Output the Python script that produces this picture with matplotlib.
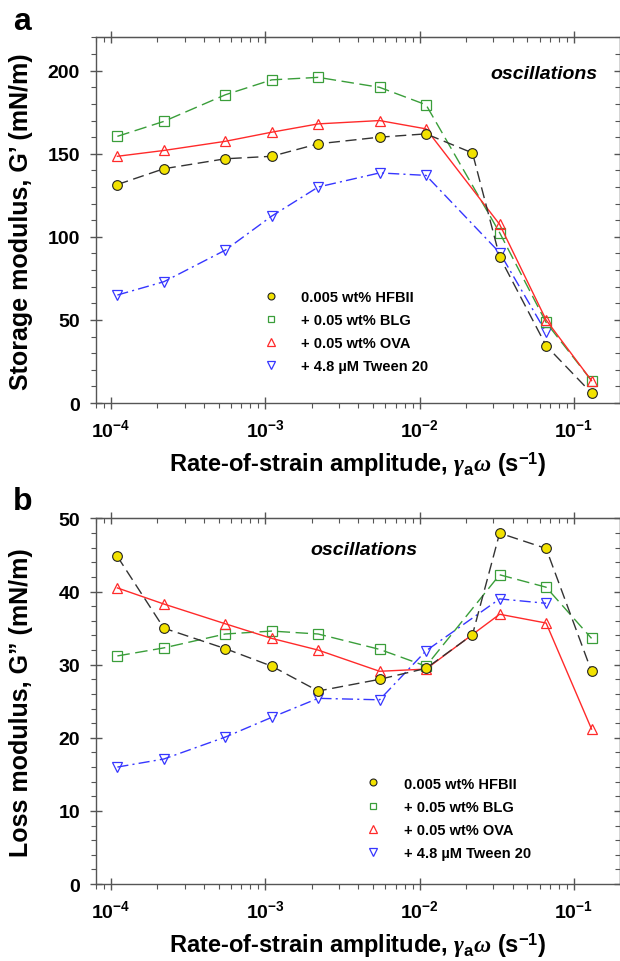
import matplotlib
matplotlib.use('Agg')
import matplotlib.pyplot as plt
from matplotlib.lines import Line2D
from matplotlib.ticker import MultipleLocator, NullFormatter

plt.rcParams['font.family'] = ['Liberation Sans', 'DejaVu Sans']
plt.rcParams['font.weight'] = 'bold'
plt.rcParams['mathtext.fontset'] = 'custom'
plt.rcParams['mathtext.rm'] = 'Liberation Sans:bold'
plt.rcParams['mathtext.bf'] = 'Liberation Sans:bold'
plt.rcParams['mathtext.it'] = 'Liberation Serif:italic'

# rate-of-strain amplitude (1/s)
rate_all = [1.1e-4, 2.2e-4, 5.5e-4, 1.1e-3, 2.2e-3, 5.5e-3, 1.1e-2, 2.2e-2, 3.3e-2, 6.6e-2, 1.3e-1]
rate_10 = [1.1e-4, 2.2e-4, 5.5e-4, 1.1e-3, 2.2e-3, 5.5e-3, 1.1e-2, 3.3e-2, 6.6e-2, 1.3e-1]
rate_9 = [1.1e-4, 2.2e-4, 5.5e-4, 1.1e-3, 2.2e-3, 5.5e-3, 1.1e-2, 3.3e-2, 6.6e-2]

labels = ['0.005 wt% HFBII', '+ 0.05 wt% BLG', '+ 0.05 wt% OVA', '+ 4.8 \u00b5M Tween 20']

# storage modulus G' (mN/m)
g1_hfb = [131.5, 141, 147, 148.5, 156, 160, 162, 150.5, 88, 34.5, 6]
g1_blg = [160.5, 169.5, 185.5, 194.5, 196, 190, 179.5, 102.5, 48.5, 13.5]
g1_ova = [148.5, 152, 157.5, 163, 168, 170, 165, 107.5, 50, 13.5]
g1_tw = [65, 73, 92, 112.5, 130, 138.5, 137, 90.5, 42.5]

# loss modulus G'' (mN/m)
g2_hfb = [44.8, 35.0, 32.2, 29.8, 26.4, 28.0, 29.5, 34.1, 48.0, 45.9, 29.1]
g2_blg = [31.2, 32.3, 34.2, 34.6, 34.2, 32.1, 29.8, 42.3, 40.6, 33.6]
g2_ova = [40.5, 38.3, 35.6, 33.6, 32.0, 29.1, 29.4, 36.9, 35.7, 21.2]
g2_tw = [16.0, 17.1, 20.1, 22.8, 25.4, 25.2, 31.9, 39.0, 38.4]

axc = '#555555'
yellow = '#f2e200'
green = '#3a9e3a'
red = '#ff2a2a'
blue = '#3636ff'

fig = plt.figure(figsize=(6.2, 9.62), dpi=100)
ax1 = fig.add_axes([0.1544, 0.580, 0.845, 0.380])
ax2 = fig.add_axes([0.1544, 0.080, 0.845, 0.380])


def draw(ax, hfb, blg, ova, tw):
    ax.plot(rate_9, tw, color=blue, lw=1.0, dashes=(8, 3, 1.5, 3),
            marker='v', ms=7, mfc='none', mec=blue, mew=0.9)
    ax.plot(rate_10, blg, color=green, lw=1.0, dashes=(9, 4),
            marker='s', ms=6.5, mfc='none', mec=green, mew=0.9)
    ax.plot(rate_10, ova, color=red, lw=1.0, ls='-',
            marker='^', ms=7, mfc='none', mec=red, mew=0.9)
    ax.plot(rate_all, hfb, color='#333333', lw=1.0, dashes=(8, 4),
            marker='o', ms=7, mfc=yellow, mec='#222222', mew=0.8)


def style(ax, ylim, major, minor, ylabel):
    ax.set_xscale('log')
    ax.set_xlim(10 ** -4.099, 10 ** -0.704)
    ax.set_ylim(*ylim)
    ax.yaxis.set_major_locator(MultipleLocator(major))
    ax.yaxis.set_minor_locator(MultipleLocator(minor))
    for s in ax.spines.values():
        s.set_color(axc)
        s.set_linewidth(1.0)
    ax.tick_params(which='major', direction='inout', length=8.5, width=1.0, color=axc,
                   labelsize=14, pad=7, top=False, right=False)
    ax.tick_params(which='minor', direction='out', length=3.5, width=0.8, color=axc,
                   top=False, right=False)
    ax.set_xlabel(r'Rate-of-strain amplitude, $\gamma_{\mathrm{a}}\omega$ (s$^{-1}$)',
                  fontsize=17, fontweight='bold')
    ax.xaxis.set_label_coords(0.5, -0.125)
    ax.set_ylabel(ylabel, fontsize=18, fontweight='bold')
    ax.yaxis.set_label_coords(-0.12, 0.5)

    # top and right axes: ticks only, pointing inward
    top = ax.secondary_xaxis('top')
    top.tick_params(which='major', direction='inout', length=8.5, width=1.0, color=axc)
    top.tick_params(which='minor', direction='in', length=3.5, width=0.8, color=axc)
    top.xaxis.set_major_formatter(NullFormatter())
    top.xaxis.set_minor_formatter(NullFormatter())
    top.spines['top'].set_color(axc)
    right = ax.secondary_yaxis('right')
    right.yaxis.set_major_locator(MultipleLocator(major))
    right.yaxis.set_minor_locator(MultipleLocator(minor))
    right.tick_params(which='major', direction='inout', length=8.5, width=1.0, color=axc)
    right.tick_params(which='minor', direction='in', length=3.5, width=0.8, color=axc)
    right.yaxis.set_major_formatter(NullFormatter())
    right.spines['right'].set_color(axc)


def legend(ax, xy):
    handles = [
        Line2D([], [], ls='none', marker='o', ms=5, mfc=yellow, mec='#222222', mew=0.8),
        Line2D([], [], ls='none', marker='s', ms=4.5, mfc='none', mec=green, mew=0.9),
        Line2D([], [], ls='none', marker='^', ms=5.5, mfc='none', mec=red, mew=0.9),
        Line2D([], [], ls='none', marker='v', ms=5.5, mfc='none', mec=blue, mew=0.9),
    ]
    ax.legend(handles, labels, loc='upper left', bbox_to_anchor=xy, frameon=False,
              fontsize=10.5, handlelength=1.0, handletextpad=1.6, labelspacing=0.62,
              borderpad=0, borderaxespad=0)


draw(ax1, g1_hfb, g1_blg, g1_ova, g1_tw)
style(ax1, (0, 220), 50, 10, 'Storage modulus, G\u2019 (mN/m)')
legend(ax1, (0.320, 0.310))
ax1.text(0.957, 0.902, 'oscillations', transform=ax1.transAxes, ha='right', va='center',
         fontsize=14, fontweight='bold', fontstyle='italic')

draw(ax2, g2_hfb, g2_blg, g2_ova, g2_tw)
style(ax2, (0, 50), 10, 2, 'Loss modulus, G\u201d (mN/m)')
legend(ax2, (0.516, 0.294))
ax2.text(0.409, 0.916, 'oscillations', transform=ax2.transAxes, ha='left', va='center',
         fontsize=14, fontweight='bold', fontstyle='italic')

fig.text(13 / 620, 1 - 30 / 962, 'a', fontsize=23, fontweight='bold', va='baseline')
fig.text(13 / 620, 1 - 510 / 962, 'b', fontsize=23, fontweight='bold', va='baseline')

fig.savefig('out.png', dpi=100)
